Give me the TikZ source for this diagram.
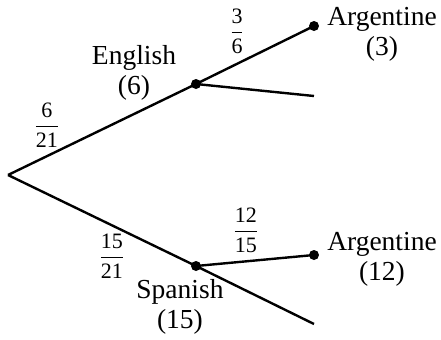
\documentclass[tikz,border=0pt]{standalone}
\usepackage{fontspec}
\setmainfont{Liberation Serif}
\begin{document}
\begin{tikzpicture}[x=0.5pt,y=-0.5pt,
  branch/.style={line width=1.2pt},
  dot/.style={circle,fill=black,inner sep=0pt,minimum size=5pt},
  lab/.style={align=center,inner sep=0pt,font=\fontsize{13.75pt}{15pt}\selectfont},
  frac/.style={inner sep=0pt,font=\fontsize{11pt}{13pt}\selectfont}]
\useasboundingbox (0,0) rectangle (441,339);
\coordinate (root) at (8,175);
\node[dot] (eng) at (196,84) {};
\node[dot] (spa) at (196,266) {};
\node[dot] (arg1) at (314,26) {};
\node[dot] (arg2) at (314,255) {};
\coordinate (e2) at (314,96);
\coordinate (s2) at (314,324);
\draw[branch] (root) -- (eng.center) -- (arg1.center);
\draw[branch] (eng.center) -- (e2);
\draw[branch] (root) -- (spa.center) -- (s2);
\draw[branch] (spa.center) -- (arg2.center);
\node[lab] (tEng) at (134,73) {English\\(6)};
\node[lab] (tSpa) at (180,307) {Spanish\\(15)};
\node[lab] (tArg1) at (382,34) {Argentine\\(3)};
\node[lab] (tArg2) at (382,259) {Argentine\\(12)};
\node[frac] (f1) at (47,125) {$\displaystyle\frac{\mbox{6}}{\mbox{21}}$};
\node[frac] (f2) at (237,31) {$\displaystyle\frac{\mbox{3}}{\mbox{6}}$};
\node[frac] (f3) at (112,256) {$\displaystyle\frac{\mbox{15}}{\mbox{21}}$};
\node[frac] (f4) at (246,230) {$\displaystyle\frac{\mbox{12}}{\mbox{15}}$};
\end{tikzpicture}
\end{document}
